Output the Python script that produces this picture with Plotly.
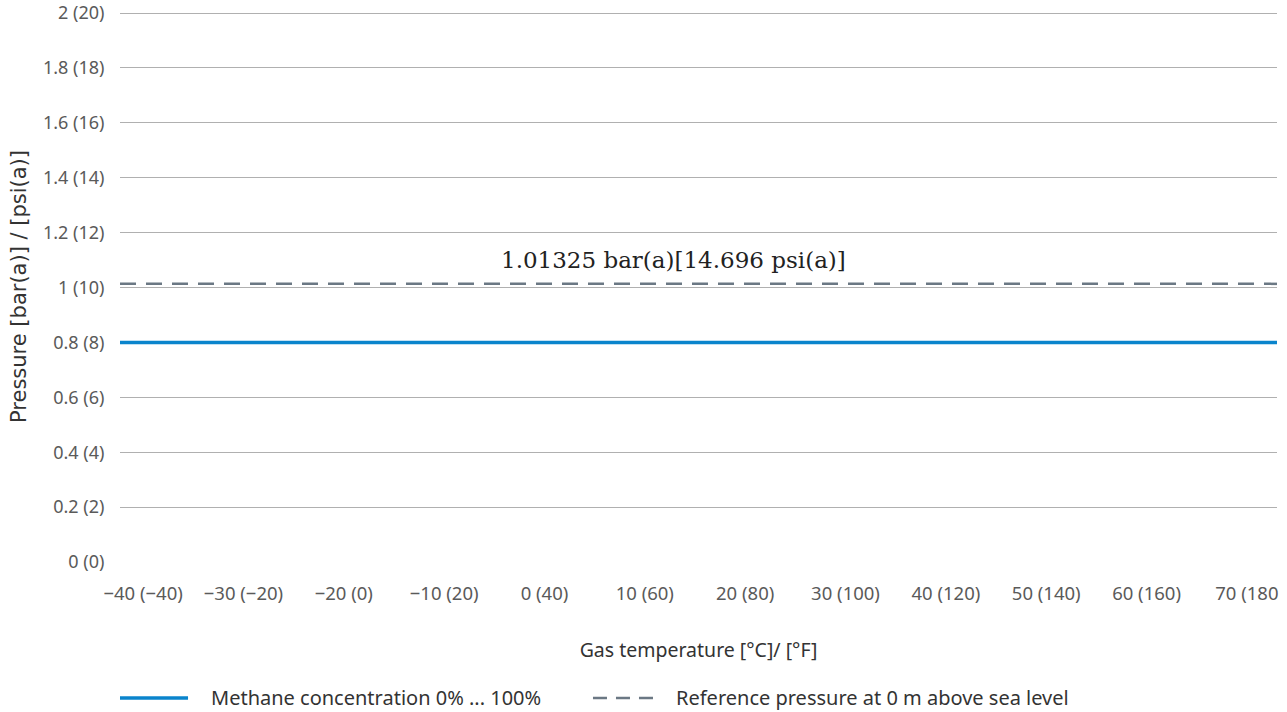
import plotly.graph_objects as go

# Data
temp_c = [-40, -30, -20, -10, 0, 10, 20, 30, 40, 50, 60, 70]
temp_labels = ["\u221240 (\u221240)", "\u221230 (\u221220)", "\u221220 (0)", "\u221210 (20)", "0 (40)",
               "10 (60)", "20 (80)", "30 (100)", "40 (120)", "50 (140)", "60 (160)", "70 (180"]
pressure_ticks = [0, 0.2, 0.4, 0.6, 0.8, 1.0, 1.2, 1.4, 1.6, 1.8, 2.0]
pressure_labels = ["0 (0)", "0.2 (2)", "0.4 (4)", "0.6 (6)", "0.8 (8)", "1 (10)",
                   "1.2 (12)", "1.4 (14)", "1.6 (16)", "1.8 (18)", "2 (20)"]
x_span = [-42.3, 73.0]
y_span = [0, 2.0073]
methane_pressure = [0.8, 0.8]
reference_pressure = [1.01325, 1.01325]
reference_label = "1.01325 bar(a)[14.696 psi(a)]"
series_names = ["Methane concentration 0% ... 100%", "Reference pressure at 0 m above sea level"]

BLUE = "#0a84cc"
SLATE = "#6b7884"
GRID = "#b0b0b0"
TICK = "#5a5a5a"
TEXT = "#333333"
SANS = "Noto Sans"

fig = go.Figure()
fig.add_trace(go.Scatter(x=x_span, y=methane_pressure, mode="lines",
                         line=dict(color=BLUE, width=3.5), name=series_names[0],
                         showlegend=False))
fig.add_trace(go.Scatter(x=x_span, y=reference_pressure, mode="lines",
                         line=dict(color=SLATE, width=2.5, dash="16px,10px"), name=series_names[1],
                         showlegend=False))

fig.add_annotation(x=0.478, y=reference_pressure[0], xref="paper", yref="y", text=reference_label,
                   showarrow=False, yshift=24,
                   font=dict(family="DejaVu Serif", size=23, color="#222222"))

# custom legend
leg_y = -0.2468
fig.add_shape(type="line", xref="paper", yref="paper", x0=0.0, x1=0.0588, y0=leg_y, y1=leg_y,
              line=dict(color=BLUE, width=3.5))
fig.add_annotation(xref="paper", yref="paper", x=0.0778, y=leg_y, text=series_names[0],
                   showarrow=False, xanchor="left", yanchor="middle", borderpad=0,
                   font=dict(family=SANS, size=20, color=TEXT))
fig.add_shape(type="line", xref="paper", yref="paper", x0=0.4088, x1=0.4676, y0=leg_y, y1=leg_y,
              line=dict(color=SLATE, width=2.5, dash="14px,9px"))
fig.add_annotation(xref="paper", yref="paper", x=0.4797, y=leg_y, text=series_names[1],
                   showarrow=False, xanchor="left", yanchor="middle", borderpad=0,
                   font=dict(family=SANS, size=20, color=TEXT))

fig.update_layout(
    width=1287, height=712,
    margin=dict(l=120, r=10, t=11, b=150),
    paper_bgcolor="white", plot_bgcolor="white",
    showlegend=False,
    font=dict(family=SANS, color=TICK, size=18),
)
fig.update_xaxes(range=x_span, tickmode="array", tickvals=temp_c, ticktext=temp_labels,
                 showgrid=False, zeroline=False, showline=False,
                 ticks="outside", ticklen=15, tickcolor="rgba(0,0,0,0)", automargin=False,
                 tickfont=dict(family=SANS, size=18.5, color=TICK),
                 title=dict(text="Gas temperature [\u00b0C]/ [\u00b0F]", standoff=39,
                            font=dict(family=SANS, size=19.5, color=TEXT)))
fig.update_yaxes(range=y_span, tickmode="array", tickvals=pressure_ticks, ticktext=pressure_labels,
                 showgrid=True, gridcolor=GRID, gridwidth=1, zeroline=False, showline=False,
                 ticks="outside", ticklen=11, tickcolor="rgba(0,0,0,0)", automargin=False,
                 ticklabeloverflow="allow",
                 tickfont=dict(family=SANS, size=18, color=TICK),
                 title=dict(text="Pressure [bar(a)] / [psi(a)]", standoff=10,
                            font=dict(family="DejaVu Sans", size=21, color=TEXT)))

# remove the default page margin so the figure fills the 1287x712 window exactly
fig.write_html("out.html", config={"displayModeBar": False},
               post_script="document.body.style.margin='0';")
